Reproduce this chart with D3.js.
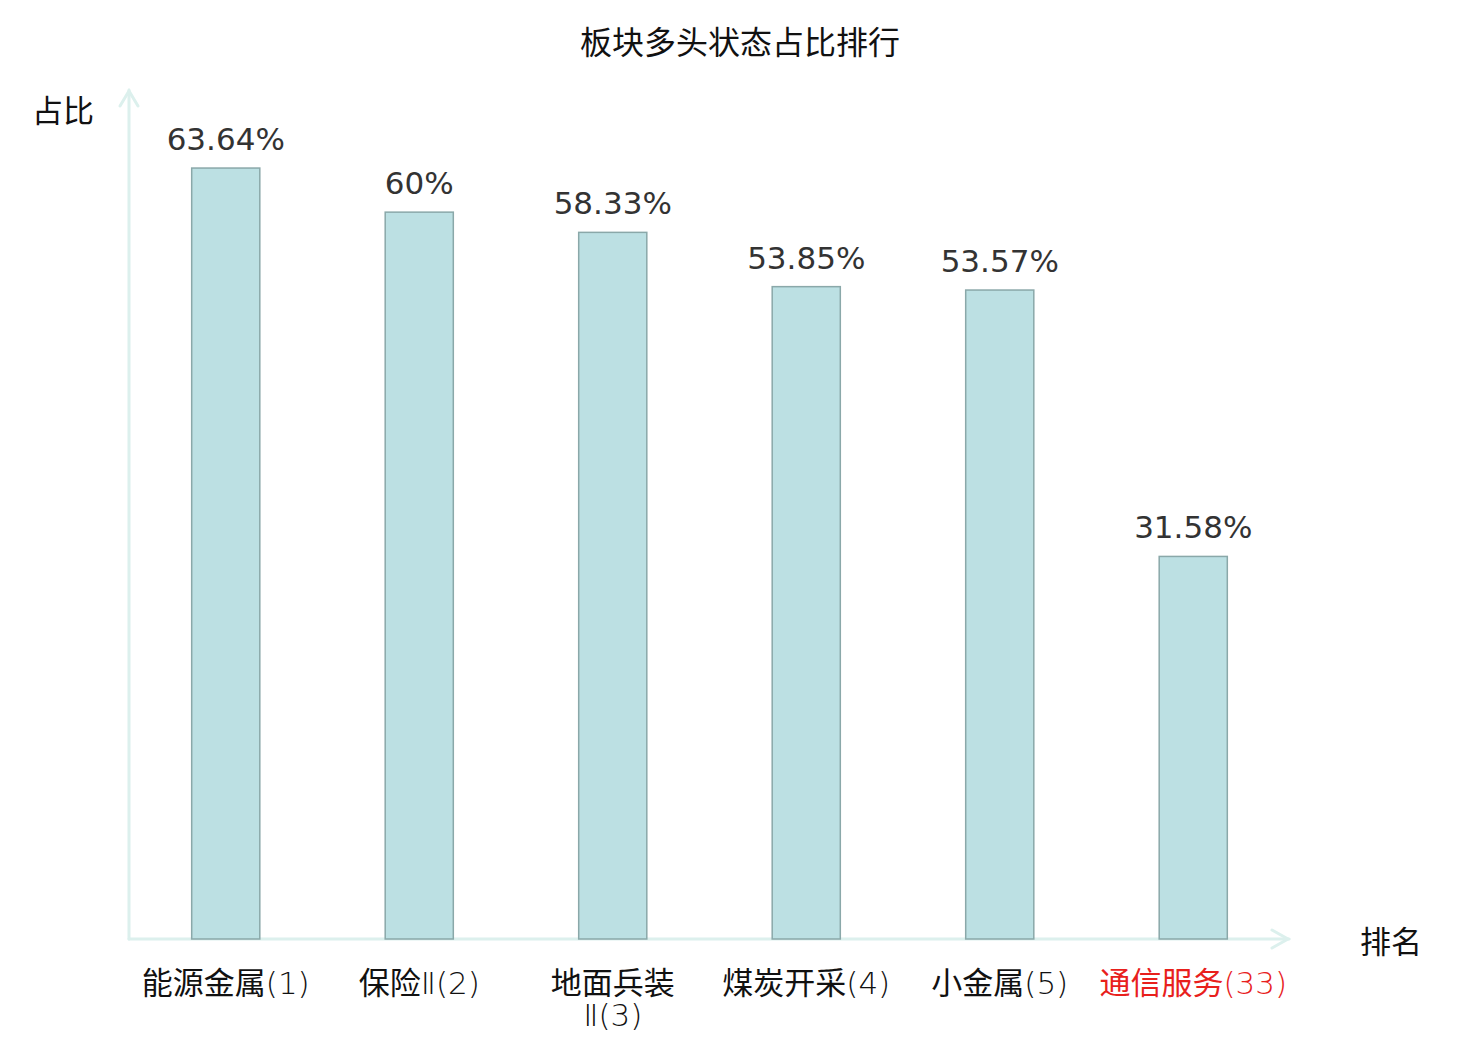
<!DOCTYPE html>
<html>
<head>
<meta charset="utf-8">
<script src="https://cdn.jsdelivr.net/npm/d3@7/dist/d3.min.js"></script>
<style>
    body { margin: 0; background: #fff; }
    text { font-family: "Noto Sans CJK SC", "DejaVu Sans", sans-serif; }
    .latin { font-family: "DejaVu Sans", sans-serif; font-weight: 200; }
</style>
</head>
<body>
<script>
const categories = ["能源金属", "保险Ⅱ", "地面兵装Ⅱ", "煤炭开采", "小金属", "通信服务"]
const ranks = [1, 2, 3, 4, 5, 33]
const values = [63.64, 60, 58.33, 53.85, 53.57, 31.58]
const valueLabels = ["63.64%", "60%", "58.33%", "53.85%", "53.57%", "31.58%"]
// one entry per tick line
const tickLines = [
    ["能源金属(1)"],
    ["保险Ⅱ(2)"],
    ["地面兵装", "Ⅱ(3)"],
    ["煤炭开采(4)"],
    ["小金属(5)"],
    ["通信服务(33)"]
]

const width = 1480
const height = 1040
const axisColor = "#dcf0ed"
const fontSize = 31

const svg = d3.select("body")
    .append("svg")
    .attr("width", width)
    .attr("height", height)

const sx = d3.scaleBand()
    .domain(categories)
    .range([129, 1290])

const sy = d3.scaleLinear()
    .domain([0, 70])
    .range([939, 91])

const barW = sx.bandwidth() * 0.352
const cx = i => sx(categories[i]) + sx.bandwidth() / 2

// split a label into cjk and latin runs
function runs (s) {
    return s.match(/[\u4e00-\u9fff]+|[^\u4e00-\u9fff]+/g)
        .map(t => ({ t, latin: !/[\u4e00-\u9fff]/.test(t) }))
}

// title
svg.append("text")
    .attr("x", 740)
    .attr("y", 54)
    .attr("text-anchor", "middle")
    .attr("font-size", 32)
    .attr("fill", "#111")
    .text("板块多头状态占比排行")

// axes with arrows
const ax = svg.append("g")
    .attr("stroke", axisColor)
    .attr("stroke-width", 3)
    .attr("fill", "none")
    .attr("stroke-linecap", "round")

ax.append("line")
    .attr("x1", 129).attr("x2", 129)
    .attr("y1", sy(0)).attr("y2", 90)
ax.append("path")
    .attr("d", "M120,106 L129,91 L138,106")
ax.append("line")
    .attr("x1", 129).attr("x2", 1289)
    .attr("y1", sy(0)).attr("y2", sy(0))
ax.append("path")
    .attr("d", "M1272,930 L1288,939 L1272,948")

svg.append("text")
    .attr("x", 63)
    .attr("y", 122)
    .attr("text-anchor", "middle")
    .attr("font-size", fontSize)
    .attr("fill", "#111")
    .text("占比")

svg.append("text")
    .attr("x", 1391)
    .attr("y", 953)
    .attr("text-anchor", "middle")
    .attr("font-size", fontSize)
    .attr("fill", "#111")
    .text("排名")

// bars
svg.append("g")
    .selectAll("rect")
    .data(values)
    .enter().append("rect")
    .attr("x", (d, i) => cx(i) - barW / 2)
    .attr("y", d => sy(d))
    .attr("width", barW)
    .attr("height", d => sy(0) - sy(d))
    .attr("fill", "#bce0e3")
    .attr("stroke", "#8aa8a9")
    .attr("stroke-width", 1.5)

// value labels
svg.append("g")
    .selectAll("text")
    .data(values)
    .enter().append("text")
    .attr("x", (d, i) => cx(i))
    .attr("y", d => sy(d) - 18)
    .attr("text-anchor", "middle")
    .attr("font-size", fontSize)
    .attr("fill", "#333")
    .style("font-family", "'DejaVu Sans', sans-serif")
    .text((d, i) => valueLabels[i])

// category ticks
const ticks = svg.append("g")
    .selectAll("text")
    .data(tickLines)
    .enter().append("text")
    .attr("x", (d, i) => cx(i))
    .attr("y", 994)
    .attr("text-anchor", "middle")
    .attr("font-size", fontSize)
    .attr("fill", (d, i) => ranks[i] > 5 ? "#e8201c" : "#111")

ticks.each(function (lines, i) {
    const t = d3.select(this)
    lines.forEach((line, j) => {
        runs(line).forEach((r, k) => {
            const sp = t.append("tspan")
                .attr("class", r.latin ? "latin" : null)
                .text(r.t)
            if (k === 0) sp.attr("x", cx(i)).attr("dy", j === 0 ? 0 : 32)
        })
    })
})
</script>
</body>
</html>
